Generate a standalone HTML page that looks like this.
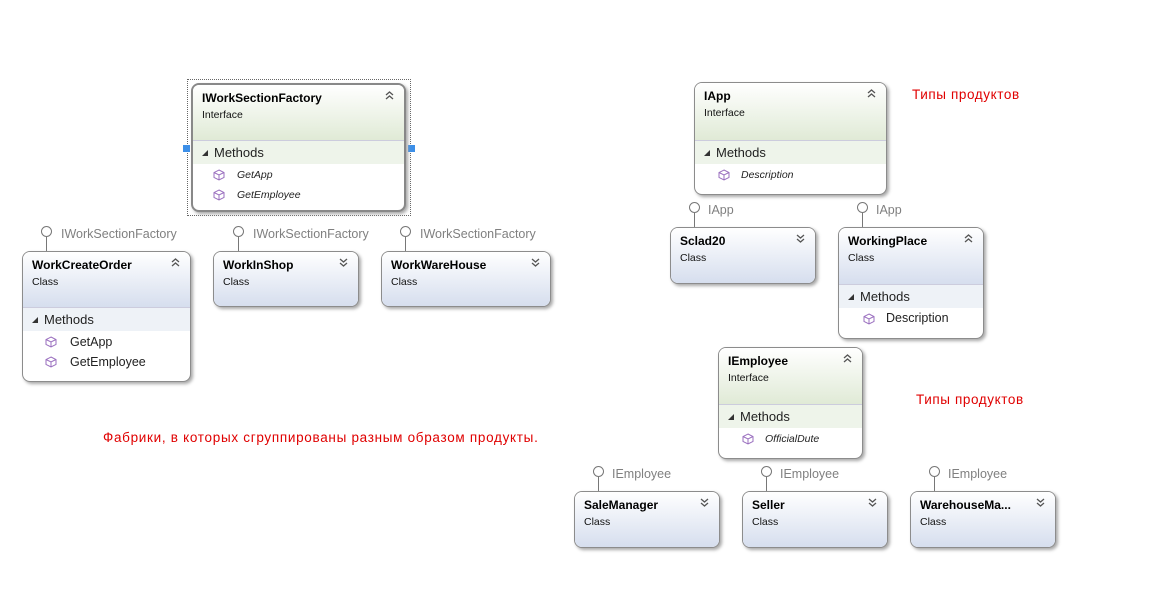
<!DOCTYPE html>
<html><head><meta charset="utf-8"><style>
body{margin:0;width:1152px;height:596px;background:#fff;position:relative;font-family:"Liberation Sans","DejaVu Sans",sans-serif;overflow:hidden}
.b{position:absolute;border:1px solid #8c8c8c;border-radius:8px;background:#fff;box-shadow:2px 2px 3px #a8a8a8;overflow:hidden;box-sizing:border-box}
.h{position:absolute;left:0;right:0;top:0;background:linear-gradient(#fff,#d6deee)}
.i .h{background:linear-gradient(#fff,#e0ead6)}
.t{position:absolute;left:9px;top:6px;font-weight:bold;font-size:12px;color:#000}
.s{position:absolute;left:9px;top:24px;font-size:10.5px;color:#111}
.m{position:absolute;left:0;right:0;height:24px;background:#eef2f7;border-top:1px solid #ccd;font-size:13px;color:#222;line-height:24px;padding-left:9px;box-sizing:border-box}
.i .m{background:#eef4ea}
.m:before{content:"";display:inline-block;border-left:6px solid transparent;border-bottom:6px solid #333;margin-right:6px;vertical-align:1px}
.r{position:absolute;font-size:12.5px;color:#222}
.r.it{font-style:italic;font-size:10.5px}
.cube{position:absolute;width:12px;height:12px}
.ch{position:absolute;top:6px;right:10px;width:9px;height:9px}
.l{position:absolute;font-size:12.5px;color:#808080}
.c{position:absolute;width:11px;height:11px;border:1px solid #777;border-radius:50%;background:#fff;box-sizing:border-box}
.v{position:absolute;width:1px;background:#777}
.red{position:absolute;color:#e00000;font-size:13.5px}
.hd{position:absolute;width:7px;height:7px;background:#3c8fe8}
</style></head><body>
<svg width="0" height="0" style="position:absolute"><defs>
<g id="cu"><path d="M6 1 L11 3.5 L11 8.5 L6 11 L1 8.5 L1 3.5Z M1 3.5 L6 6 L11 3.5 M6 6 L6 11" fill="none" stroke="#9a6fbf" stroke-width="1"/></g>
<g id="up"><path d="M1 4 L4.5 1 L8 4 M1 8 L4.5 5 L8 8" fill="none" stroke="#555" stroke-width="1.3"/></g>
<g id="dn"><path d="M1 1 L4.5 4 L8 1 M1 5 L4.5 8 L8 5" fill="none" stroke="#555" stroke-width="1.3"/></g>
</defs></svg>

<div style="position:absolute;left:187px;top:79px;width:224px;height:137px;border:1px dotted #666;box-sizing:border-box"></div>
<div class="hd" style="left:183px;top:145px"></div><div class="hd" style="left:408px;top:145px"></div>
<div class="b i" style="left:191px;top:83px;width:215px;height:129px;border:2px double #888">
<div class="h" style="height:55px"></div><div class="t">IWorkSectionFactory</div><div class="s">Interface</div>
<svg class="ch" viewBox="0 0 9 9"><use href="#up"/></svg>
<div class="m" style="top:55px">Methods</div>
<svg class="cube" style="left:20px;top:84px" viewBox="0 0 12 12"><use href="#cu"/></svg><div class="r it" style="left:44px;top:84px">GetApp</div>
<svg class="cube" style="left:20px;top:104px" viewBox="0 0 12 12"><use href="#cu"/></svg><div class="r it" style="left:44px;top:104px">GetEmployee</div>
</div>

<div class="c" style="left:41px;top:226px"></div><div class="v" style="left:46px;top:237px;height:14px"></div><div class="l" style="left:61px;top:227px">IWorkSectionFactory</div>
<div class="b" style="left:22px;top:251px;width:169px;height:131px">
<div class="h" style="height:55px"></div><div class="t">WorkCreateOrder</div><div class="s">Class</div>
<svg class="ch" viewBox="0 0 9 9"><use href="#up"/></svg>
<div class="m" style="top:55px">Methods</div>
<svg class="cube" style="left:22px;top:84px" viewBox="0 0 12 12"><use href="#cu"/></svg><div class="r" style="left:47px;top:83px">GetApp</div>
<svg class="cube" style="left:22px;top:104px" viewBox="0 0 12 12"><use href="#cu"/></svg><div class="r" style="left:47px;top:103px">GetEmployee</div>
</div>

<div class="c" style="left:233px;top:226px"></div><div class="v" style="left:238px;top:237px;height:14px"></div><div class="l" style="left:253px;top:227px">IWorkSectionFactory</div>
<div class="b" style="left:213px;top:251px;width:146px;height:56px"><div class="h" style="bottom:0"></div><div class="t">WorkInShop</div><div class="s">Class</div><svg class="ch" viewBox="0 0 9 9"><use href="#dn"/></svg></div>

<div class="c" style="left:400px;top:226px"></div><div class="v" style="left:405px;top:237px;height:14px"></div><div class="l" style="left:420px;top:227px">IWorkSectionFactory</div>
<div class="b" style="left:381px;top:251px;width:170px;height:56px"><div class="h" style="bottom:0"></div><div class="t">WorkWareHouse</div><div class="s">Class</div><svg class="ch" viewBox="0 0 9 9"><use href="#dn"/></svg></div>

<div class="red" style="left:103px;top:430px;letter-spacing:0.7px">Фабрики, в которых сгруппированы разным образом продукты.</div>

<div class="b i" style="left:694px;top:82px;width:193px;height:113px">
<div class="h" style="height:57px"></div><div class="t">IApp</div><div class="s">Interface</div>
<svg class="ch" viewBox="0 0 9 9"><use href="#up"/></svg>
<div class="m" style="top:57px">Methods</div>
<svg class="cube" style="left:23px;top:86px" viewBox="0 0 12 12"><use href="#cu"/></svg><div class="r it" style="left:46px;top:86px">Description</div>
</div>
<div class="red" style="left:912px;top:87px;letter-spacing:0.6px">Типы продуктов</div>

<div class="c" style="left:689px;top:202px"></div><div class="v" style="left:694px;top:213px;height:14px"></div><div class="l" style="left:708px;top:203px">IApp</div>
<div class="b" style="left:670px;top:227px;width:146px;height:57px"><div class="h" style="bottom:0"></div><div class="t">Sclad20</div><div class="s">Class</div><svg class="ch" viewBox="0 0 9 9"><use href="#dn"/></svg></div>

<div class="c" style="left:857px;top:202px"></div><div class="v" style="left:862px;top:213px;height:14px"></div><div class="l" style="left:876px;top:203px">IApp</div>
<div class="b" style="left:838px;top:227px;width:146px;height:112px">
<div class="h" style="height:56px"></div><div class="t">WorkingPlace</div><div class="s">Class</div>
<svg class="ch" viewBox="0 0 9 9"><use href="#up"/></svg>
<div class="m" style="top:56px">Methods</div>
<svg class="cube" style="left:24px;top:85px" viewBox="0 0 12 12"><use href="#cu"/></svg><div class="r" style="left:47px;top:83px">Description</div>
</div>

<div class="b i" style="left:718px;top:347px;width:145px;height:112px">
<div class="h" style="height:56px"></div><div class="t">IEmployee</div><div class="s">Interface</div>
<svg class="ch" viewBox="0 0 9 9"><use href="#up"/></svg>
<div class="m" style="top:56px">Methods</div>
<svg class="cube" style="left:23px;top:85px" viewBox="0 0 12 12"><use href="#cu"/></svg><div class="r it" style="left:46px;top:85px">OfficialDute</div>
</div>
<div class="red" style="left:916px;top:392px;letter-spacing:0.6px">Типы продуктов</div>

<div class="c" style="left:593px;top:466px"></div><div class="v" style="left:598px;top:477px;height:14px"></div><div class="l" style="left:612px;top:467px">IEmployee</div>
<div class="b" style="left:574px;top:491px;width:146px;height:57px"><div class="h" style="bottom:0"></div><div class="t">SaleManager</div><div class="s">Class</div><svg class="ch" viewBox="0 0 9 9"><use href="#dn"/></svg></div>

<div class="c" style="left:761px;top:466px"></div><div class="v" style="left:766px;top:477px;height:14px"></div><div class="l" style="left:780px;top:467px">IEmployee</div>
<div class="b" style="left:742px;top:491px;width:146px;height:57px"><div class="h" style="bottom:0"></div><div class="t">Seller</div><div class="s">Class</div><svg class="ch" viewBox="0 0 9 9"><use href="#dn"/></svg></div>

<div class="c" style="left:929px;top:466px"></div><div class="v" style="left:934px;top:477px;height:14px"></div><div class="l" style="left:948px;top:467px">IEmployee</div>
<div class="b" style="left:910px;top:491px;width:146px;height:57px"><div class="h" style="bottom:0"></div><div class="t">WarehouseMa...</div><div class="s">Class</div><svg class="ch" viewBox="0 0 9 9"><use href="#dn"/></svg></div>
</body></html>
